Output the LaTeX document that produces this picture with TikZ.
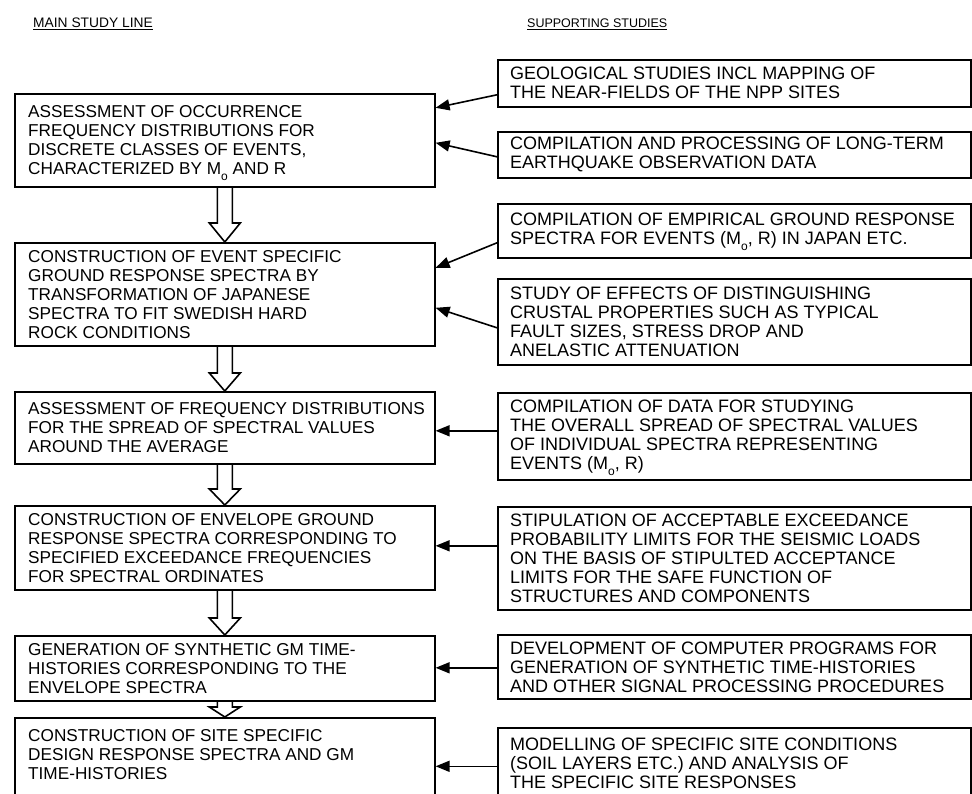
\documentclass[tikz,border=0pt]{standalone}
\usepackage{fontspec}
\setmainfont{Liberation Sans}
\usetikzlibrary{arrows.meta,calc}
\newcommand{\subo}{\smash{\raisebox{-6pt}{\fontsize{12}{12}\selectfont o}}}
\newcommand{\hollowarrow}[3]{%
  \draw[hollow] ($(#1.south)+(-7.5,0)$) -- ($(#2.north)+(-7.5,-#3)$)
    -- ($(#2.north)+(-15.5,-#3)$) -- (#2.north) -- ($(#2.north)+(15.5,-#3)$)
    -- ($(#2.north)+(7.5,-#3)$) -- ($(#1.south)+(7.5,0)$);}
\begin{document}
\begin{tikzpicture}[x=1pt,y=-1pt,
  box/.style={draw=black, line width=1.6pt, rectangle, inner sep=0pt, anchor=north west},
  lbox/.style={box, minimum width=420pt},
  rbox/.style={box, minimum width=473pt},
  ltxt/.style={anchor=west, align=left, inner sep=0pt, font=\fontsize{17.2}{19}\selectfont},
  rtxt/.style={anchor=west, align=left, inner sep=0pt, font=\fontsize{18}{19}\selectfont},
  conn/.style={line width=1.6pt, -{Triangle[length=14pt,width=11pt]}},
  hollow/.style={line width=1.6pt, line join=miter},
  head/.style={anchor=base west, inner sep=0pt}
]
\useasboundingbox (0,0) rectangle (972,794);
\clip (0,0) rectangle (972,794);

\node[head, font=\fontsize{13.8}{15}\selectfont] (H1) at (33,28) {\underline{MAIN STUDY LINE}};
\node[head, font=\fontsize{12.5}{14}\selectfont] (H2) at (527,28) {\underline{SUPPORTING STUDIES}};

% main study line boxes
\node[lbox, minimum height=93pt]  (L1) at (14,93)  {};
\node[lbox, minimum height=103pt] (L2) at (14,242) {};
\node[lbox, minimum height=72pt]  (L3) at (14,391) {};
\node[lbox, minimum height=84pt]  (L4) at (14,505) {};
\node[lbox, minimum height=65pt]  (L5) at (14,635) {};
\node[lbox, minimum height=110pt] (L6) at (14,717) {};

\node[ltxt] (L1t) at ([xshift=14pt]L1.west) {ASSESSMENT OF OCCURRENCE\\FREQUENCY DISTRIBUTIONS FOR\\DISCRETE CLASSES OF EVENTS,\\CHARACTERIZED BY M\subo{} AND R};
\node[ltxt] (L2t) at ([xshift=14pt]L2.west) {CONSTRUCTION OF EVENT SPECIFIC\\GROUND RESPONSE SPECTRA BY\\TRANSFORMATION OF JAPANESE\\SPECTRA TO FIT SWEDISH HARD\\ROCK CONDITIONS};
\node[ltxt] (L3t) at ([xshift=14pt]L3.west) {ASSESSMENT OF FREQUENCY DISTRIBUTIONS\\FOR THE SPREAD OF SPECTRAL VALUES\\AROUND THE AVERAGE};
\node[ltxt] (L4t) at ([xshift=14pt]L4.west) {CONSTRUCTION OF ENVELOPE GROUND\\RESPONSE SPECTRA CORRESPONDING TO\\SPECIFIED EXCEEDANCE FREQUENCIES\\FOR SPECTRAL ORDINATES};
\node[ltxt] (L5t) at ([xshift=14pt]L5.west) {GENERATION OF SYNTHETIC GM TIME-\\HISTORIES CORRESPONDING TO THE\\ENVELOPE SPECTRA};
\node[ltxt, anchor=north west] (L6t) at ([xshift=14pt,yshift=-12pt]L6.north west) {CONSTRUCTION OF SITE SPECIFIC\\DESIGN RESPONSE SPECTRA AND GM\\TIME-HISTORIES};

% supporting studies boxes
\node[rbox, minimum height=47pt]  (R1) at (497,59)  {};
\node[rbox, minimum height=46pt]  (R2) at (497,131) {};
\node[rbox, minimum height=54pt]  (R3) at (497,203) {};
\node[rbox, minimum height=86pt]  (R4) at (497,278) {};
\node[rbox, minimum height=87pt]  (R5) at (497,392) {};
\node[rbox, minimum height=103pt] (R6) at (497,506) {};
\node[rbox, minimum height=64pt]  (R7) at (497,634) {};
\node[rbox, minimum height=100pt] (R8) at (497,727) {};

\node[rtxt] (R1t) at ([xshift=13pt]R1.west) {GEOLOGICAL STUDIES INCL MAPPING OF\\THE NEAR-FIELDS OF THE NPP SITES};
\node[rtxt] (R2t) at ([xshift=13pt]R2.west) {COMPILATION AND PROCESSING OF LONG-TERM\\EARTHQUAKE OBSERVATION DATA};
\node[rtxt] (R3t) at ([xshift=13pt]R3.west) {COMPILATION OF EMPIRICAL GROUND RESPONSE\\SPECTRA FOR EVENTS (M\subo, R) IN JAPAN ETC.};
\node[rtxt] (R4t) at ([xshift=13pt]R4.west) {STUDY OF EFFECTS OF DISTINGUISHING\\CRUSTAL PROPERTIES SUCH AS TYPICAL\\FAULT SIZES, STRESS DROP AND\\ANELASTIC ATTENUATION};
\node[rtxt] (R5t) at ([xshift=13pt]R5.west) {COMPILATION OF DATA FOR STUDYING\\THE OVERALL SPREAD OF SPECTRAL VALUES\\OF INDIVIDUAL SPECTRA REPRESENTING\\EVENTS (M\subo, R)};
\node[rtxt] (R6t) at ([xshift=13pt]R6.west) {STIPULATION OF ACCEPTABLE EXCEEDANCE\\PROBABILITY LIMITS FOR THE SEISMIC LOADS\\ON THE BASIS OF STIPULTED ACCEPTANCE\\LIMITS FOR THE SAFE FUNCTION OF\\STRUCTURES AND COMPONENTS};
\node[rtxt] (R7t) at ([xshift=13pt]R7.west) {DEVELOPMENT OF COMPUTER PROGRAMS FOR\\GENERATION OF SYNTHETIC TIME-HISTORIES\\AND OTHER SIGNAL PROCESSING PROCEDURES};
\node[rtxt, anchor=north west] (R8t) at ([xshift=13pt,yshift=-11pt]R8.north west) {MODELLING OF SPECIFIC SITE CONDITIONS\\(SOIL LAYERS ETC.) AND ANALYSIS OF\\THE SPECIFIC SITE RESPONSES};

% hollow arrows along the main line
\hollowarrow{L1}{L2}{19}
\hollowarrow{L2}{L3}{18}
\hollowarrow{L3}{L4}{16}
\hollowarrow{L4}{L5}{17}
\hollowarrow{L5}{L6}{10}

% connectors from supporting studies
\draw[conn] ([yshift=-11.5pt]R1.west) -- ([yshift=32.5pt]L1.east);
\draw[conn] ([yshift=-2pt]R2.west) -- ([yshift=-2.5pt]L1.east);
\draw[conn] ([yshift=-12pt]R3.west) -- ([yshift=26.5pt]L2.east);
\draw[conn] ([yshift=-6pt]R4.west) -- ([yshift=-13.5pt]L2.east);
\coordinate (c5) at ([yshift=5.5pt]R5.west);
\coordinate (c6) at ([yshift=12.5pt]R6.west);
\coordinate (c7) at ([yshift=-1pt]R7.west);
\coordinate (c8) at ([yshift=11.5pt]R8.west);
\draw[conn] (c5) -- (c5 -| L3.east);
\draw[conn] (c6) -- (c6 -| L4.east);
\draw[conn] (c7) -- (c7 -| L5.east);
\draw[conn] (c8) -- (c8 -| L6.east);
\end{tikzpicture}
\end{document}
